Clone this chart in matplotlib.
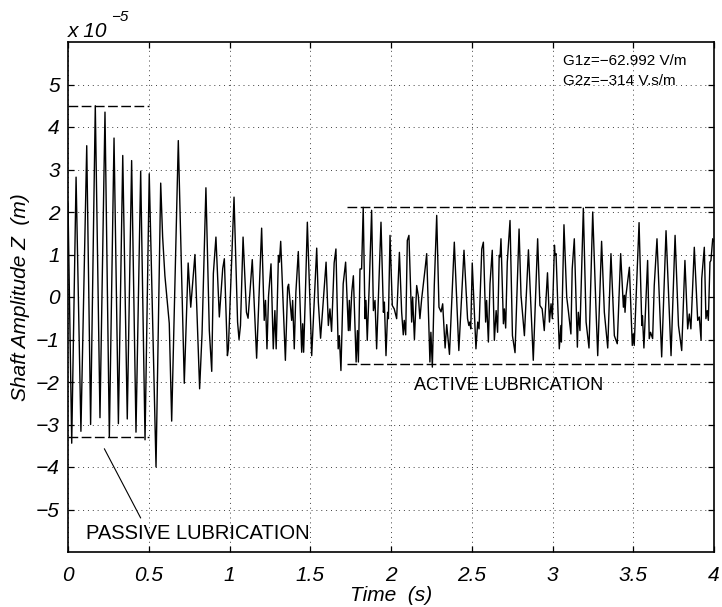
import matplotlib
matplotlib.use("Agg")
import matplotlib.pyplot as plt

plt.rcParams['font.family'] = ['Liberation Sans', 'DejaVu Sans']

# shaft amplitude Z (units of 1e-5 m), turning points
time_s = [
    0.000, 0.023, 0.050, 0.080, 0.116, 0.140, 0.169, 0.198, 0.229, 0.256,
    0.285, 0.312, 0.339, 0.367, 0.394, 0.421, 0.450, 0.477, 0.503, 0.545,
    0.574, 0.586, 0.600, 0.627, 0.642, 0.683, 0.720, 0.744, 0.760, 0.786,
    0.815, 0.830, 0.854, 0.875, 0.890, 0.900, 0.916, 0.937, 0.958, 0.968,
    0.987, 0.993, 1.028, 1.050, 1.059, 1.068, 1.084, 1.105, 1.115, 1.141,
    1.168, 1.199, 1.215, 1.223, 1.232, 1.242, 1.257, 1.271, 1.281, 1.289,
    1.303, 1.309, 1.317, 1.346, 1.360, 1.366, 1.385, 1.391, 1.401, 1.411,
    1.426, 1.447, 1.453, 1.459, 1.469, 1.482, 1.509, 1.540, 1.550, 1.564,
    1.598, 1.612, 1.622, 1.632, 1.648, 1.659, 1.673, 1.680, 1.690, 1.704,
    1.719, 1.736, 1.742, 1.746, 1.757, 1.767, 1.784, 1.792, 1.798, 1.808,
    1.818, 1.828, 1.839, 1.845, 1.853, 1.866, 1.880, 1.891, 1.901, 1.911,
    1.938, 1.953, 1.959, 1.969, 1.979, 1.984, 1.994, 2.008, 2.020, 2.035,
    2.052, 2.066, 2.076, 2.082, 2.091, 2.101, 2.111, 2.128, 2.134, 2.145,
    2.159, 2.169, 2.179, 2.190, 2.211, 2.221, 2.241, 2.247, 2.256, 2.268,
    2.283, 2.297, 2.310, 2.320, 2.335, 2.345, 2.362, 2.392, 2.420, 2.452,
    2.474, 2.482, 2.488, 2.494, 2.503, 2.526, 2.537, 2.545, 2.562, 2.572,
    2.586, 2.592, 2.603, 2.613, 2.627, 2.640, 2.651, 2.660, 2.670, 2.675,
    2.681, 2.696, 2.702, 2.710, 2.720, 2.737, 2.752, 2.768, 2.793, 2.805,
    2.826, 2.851, 2.881, 2.908, 2.922, 2.936, 2.949, 2.969, 2.981, 2.991,
    2.999, 3.012, 3.016, 3.022, 3.042, 3.052, 3.055, 3.071, 3.088, 3.098,
    3.114, 3.122, 3.135, 3.154, 3.160, 3.170, 3.191, 3.208, 3.226, 3.249,
    3.270, 3.280, 3.304, 3.321, 3.342, 3.362, 3.383, 3.401, 3.422, 3.439,
    3.445, 3.449, 3.455, 3.476, 3.494, 3.500, 3.506, 3.536, 3.553, 3.557,
    3.566, 3.589, 3.599, 3.607, 3.620, 3.630, 3.647, 3.676, 3.703, 3.734,
    3.759, 3.780, 3.800, 3.820, 3.837, 3.847, 3.857, 3.878, 3.899, 3.909,
    3.920, 3.924, 3.940, 3.950, 3.958, 3.965, 3.975, 3.981, 3.992, 4.000,
]
z_amp = [
    2.20, -3.44, 2.82, -3.16, 3.56, -3.00, 4.50, -2.84, 4.35, -3.30,
    3.74, -2.98, 3.33, -2.87, 3.21, -3.18, 2.96, -3.36, 2.90, -4.00,
    2.68, 1.41, 0.50, -0.62, -2.92, 3.68, -2.03, 0.80, -0.24, 1.00,
    -2.16, -0.86, 2.57, -0.79, -1.75, 0.55, 1.41, -0.47, 0.67, 0.90,
    -1.38, -1.22, 2.35, -0.59, -1.00, -0.67, 1.41, -0.36, -0.50, 0.88,
    -1.44, 1.62, -0.55, -0.08, -1.22, 0.04, 0.78, -1.22, -0.32, -1.22,
    0.98, 0.82, 1.31, -1.49, 0.23, 0.30, -0.55, -0.08, -1.22, 0.11,
    1.07, -1.30, -0.63, -1.30, -0.04, 1.76, -1.38, 1.15, -0.12, -0.97,
    0.82, -0.67, -0.28, -0.81, 0.80, 1.13, -1.22, -0.91, -1.73, 0.31,
    0.82, -0.79, -0.08, -0.79, 0.11, 0.50, -1.53, -0.79, -1.53, 0.66,
    0.66, 2.11, -0.51, -0.08, -1.02, 0.35, 2.04, -0.32, -0.08, -1.22,
    1.76, -0.36, -0.12, -1.38, -0.36, -0.51, 1.45, -0.20, -0.28, -0.51,
    1.05, -0.36, -0.89, -0.55, -0.89, 1.33, 1.45, -0.59, 0.00, -1.00,
    0.27, 0.03, -0.51, -0.04, 0.66, 1.02, -1.53, -0.83, -1.65, 0.27,
    1.92, -0.24, -0.35, -0.16, -1.20, -0.65, -1.35, 1.29, -1.26, 1.10,
    -0.51, -0.67, -0.59, -0.75, 0.80, -1.22, -0.59, -0.75, 1.13, 1.29,
    -0.59, -0.08, -1.06, 0.31, 1.10, -1.02, -0.32, -0.83, 0.98, 0.94,
    1.37, -0.63, -0.28, -0.73, 0.82, 1.80, -0.91, -1.31, 1.60, 0.04,
    -0.91, 1.11, -1.49, 1.37, -0.20, -0.28, -0.79, 0.57, -0.59, -0.16,
    -0.51, 1.22, 0.98, 1.02, -1.22, -0.67, -1.06, 1.70, 0.00, -0.32,
    -0.87, 0.66, 1.37, -1.18, -0.36, -0.79, 2.09, -0.59, -1.20, 2.00,
    -0.36, -1.38, 1.31, -0.36, -1.20, 1.02, -0.91, -1.10, 1.02, -0.24,
    0.04, -0.36, 0.04, 0.70, -1.14, -0.87, -1.14, 1.75, -0.67, -0.44,
    -1.20, 0.86, -0.98, -0.83, -0.98, 0.27, 1.37, -1.41, 1.56, -1.38,
    1.45, -0.67, -1.26, 0.86, -0.75, -0.40, -0.75, 1.17, -0.55, -0.47,
    -1.02, 0.43, 1.17, -0.51, -0.32, -0.55, 0.82, 0.86, 1.37, 1.30,
]

# envelope lines: (t_start, t_end, lower, upper)
passive_band = (0.0, 0.5, -3.3, 4.5)
active_band = (1.725, 4.0, -1.57, 2.11)

x_ticks = [0, 0.5, 1, 1.5, 2, 2.5, 3, 3.5, 4]
x_labels = ['0', '0.5', '1', '1.5', '2', '2.5', '3', '3.5', '4']
y_ticks = [-5, -4, -3, -2, -1, 0, 1, 2, 3, 4, 5]
y_labels = ['\u22125', '\u22124', '\u22123', '\u22122', '\u22121', '0', '1', '2', '3', '4', '5']

fig = plt.figure(figsize=(7.22, 6.07), dpi=100)
ax = fig.add_axes([68 / 722, 55 / 607, 646 / 722, 510 / 607])

ax.plot(time_s, z_amp, color='black', lw=1.0)

dash = dict(color='black', lw=1.0, linestyle=(0, (7, 2.5)))
for band in (passive_band, active_band):
    ax.plot([band[0], band[1]], [band[3], band[3]], **dash)
    ax.plot([band[0], band[1]], [band[2], band[2]], **dash)

ax.set_xlim(0, 4)
ax.set_ylim(-6, 6)
ax.set_xticks(x_ticks)
ax.set_xticklabels(x_labels, fontsize=15, fontstyle='italic')
ax.set_yticks(y_ticks)
ax.set_yticklabels(y_labels, fontsize=15, fontstyle='italic')
ax.tick_params(direction='in', length=4, width=0.9, top=True, right=True)
ax.tick_params(axis='x', pad=10)
ax.tick_params(axis='y', pad=6)
ax.grid(True, color='0.25', linestyle=(0, (1, 4)), lw=0.7)
for s in ax.spines.values():
    s.set_linewidth(1.2)

ax.set_xlabel('Time  (s)', fontsize=15, fontstyle='italic', labelpad=1)
ax.set_ylabel('Shaft Amplitude Z  (m)', fontsize=15, fontstyle='italic', labelpad=4)

# exponent label
fig.text(68 / 722, 1 - 37 / 607, 'x 10', fontsize=15, fontstyle='italic', va='baseline')
fig.text(111 / 722, 1 - 21 / 607, '\u22125', fontsize=11, fontstyle='italic', va='baseline')

ax.text(3.065, 5.56, 'G1z=\u221262.992 V/m', fontsize=11, va='center')
ax.text(3.065, 5.09, 'G2z=\u2212314 V.s/m', fontsize=11, va='center')
ax.text(2.73, -2.08, 'ACTIVE LUBRICATION', fontsize=13, va='center', ha='center')
ax.text(0.11, -5.56, 'PASSIVE LUBRICATION', fontsize=14.5, va='center')
ax.annotate('', xy=(0.225, -3.57), xytext=(0.45, -5.2),
            arrowprops=dict(arrowstyle='-', lw=0.8, color='black', shrinkA=0, shrinkB=0))

fig.savefig('out.png', dpi=100)
